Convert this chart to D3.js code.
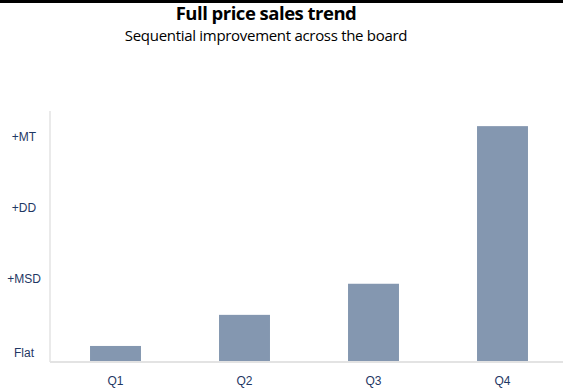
<!DOCTYPE html>
<html lang='en'>
  <head>
    <meta charset='utf-8'>
    <title>Full price sales trend</title>
    <script type='text/javascript' src='https://cdn.jsdelivr.net/npm/d3@7'></script>
    <style>
      body { margin: 0; background: #fff; }
    </style>
  </head>
  <body>
    <script type='text/javascript'>

      // quarters and bar heights (in "label units": Flat=0, +MSD=1, +DD=2, +MT=3)
      var quarters = ['Q1', 'Q2', 'Q3', 'Q4'];
      var values = [0.05, 0.49, 0.93, 3.16];
      var tickLabels = ['Flat', '+MSD', '+DD', '+MT'];
      var tickValues = [-0.05, 1, 2, 3];

      var w = 563;
      var h = 392;
      var base = 362;
      var navy = '#1f3864';

      var svg = d3.select('body')
                  .append('svg')
                  .attr('width', w)
                  .attr('height', h);

      // top rule
      svg.append('rect')
         .attr('x', 0).attr('y', 0)
         .attr('width', w).attr('height', 3)
         .attr('fill', '#000');

      svg.append('text')
         .text('Full price sales trend')
         .attr('x', 266).attr('y', 20)
         .attr('text-anchor', 'middle')
         .attr('font-family', 'Open Sans, sans-serif')
         .attr('font-weight', 'bold')
         .attr('font-size', '18.5px')
         .attr('letter-spacing', '-0.5px')
         .attr('fill', '#000');

      svg.append('text')
         .text('Sequential improvement across the board')
         .attr('x', 266).attr('y', 41)
         .attr('text-anchor', 'middle')
         .attr('font-family', 'Open Sans, sans-serif')
         .attr('font-size', '15px')
         .attr('letter-spacing', '-0.3px')
         .attr('fill', '#000');

      var xScale = d3.scaleBand()
                     .domain(quarters)
                     .range([51, 567])
                     .paddingInner(0.605)
                     .paddingOuter(0.3025);

      var yScale = d3.scaleLinear()
                     .domain([-0.177, 3.36])
                     .range([base, 112]);

      // axis lines
      svg.append('line')
         .attr('x1', 50).attr('x2', 50)
         .attr('y1', yScale.range()[1] - 1).attr('y2', base)
         .attr('stroke', '#e3e3e3').attr('stroke-width', 1.5);

      svg.append('line')
         .attr('x1', 50).attr('x2', w)
         .attr('y1', base).attr('y2', base)
         .attr('stroke', '#e3e3e3').attr('stroke-width', 2);

      svg.selectAll('rect.bar')
         .data(values)
         .enter()
         .append('rect')
         .attr('class', 'bar')
         .attr('x', function(d, i){
           return xScale(quarters[i]);
         })
         .attr('y', function(d){
           return yScale(d);
         })
         .attr('width', xScale.bandwidth())
         .attr('height', function(d){
           return base - 1 - yScale(d);
         })
         .attr('fill', '#8497b0');

      // x labels
      svg.selectAll('text.xlab')
         .data(quarters)
         .enter()
         .append('text')
         .attr('class', 'xlab')
         .text(function(d){ return d; })
         .attr('x', function(d){
           return xScale(d) + xScale.bandwidth()/2;
         })
         .attr('y', 385)
         .attr('text-anchor', 'middle')
         .attr('font-family', 'Liberation Sans, Arial, sans-serif')
         .attr('font-size', '12px')
         .attr('fill', navy);

      // y labels
      svg.selectAll('text.ylab')
         .data(tickValues)
         .enter()
         .append('text')
         .attr('class', 'ylab')
         .text(function(d, i){ return tickLabels[i]; })
         .attr('x', 24)
         .attr('y', function(d){
           return yScale(d) + 4;
         })
         .attr('text-anchor', 'middle')
         .attr('font-family', 'Liberation Sans, Arial, sans-serif')
         .attr('font-size', '12px')
         .attr('fill', navy);

    </script>
  </body>
</html>
